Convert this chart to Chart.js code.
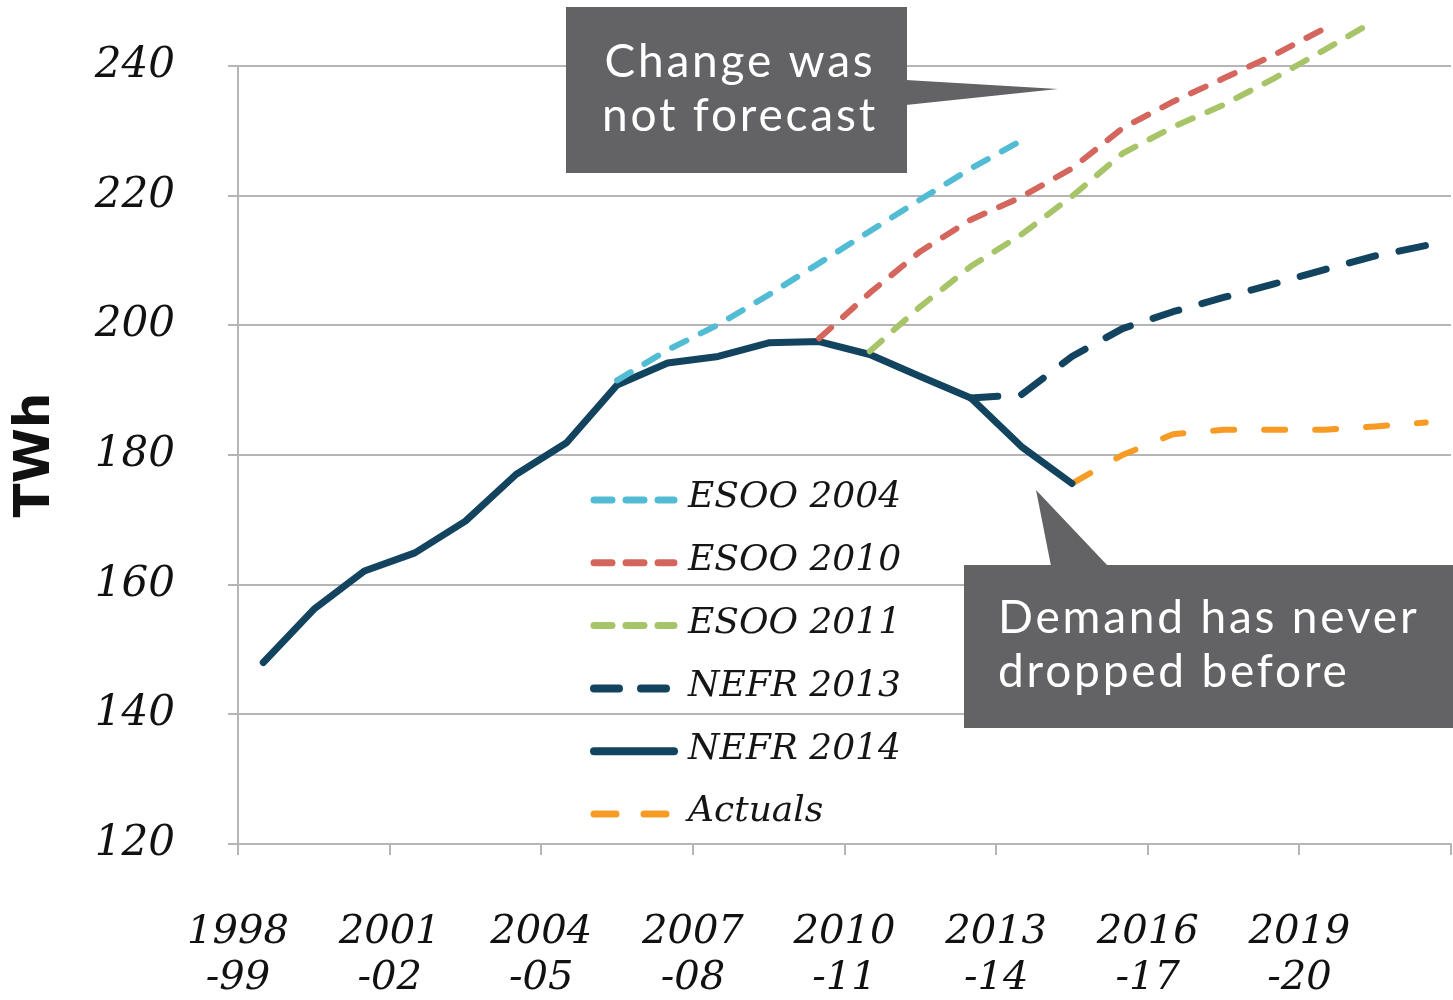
<html>
<head>
	<meta charset="utf-8">
	<title>TWh forecasts</title>
	<script src="https://cdn.jsdelivr.net/npm/chart.js@4/dist/chart.umd.min.js"></script>
	<style>
		body { margin: 0; background: #ffffff; }
		#wrap { width: 1453px; height: 1000px; position: relative; }
	</style>
</head>
<body>
	<div id="wrap">
		<canvas id="myChart"></canvas>
	</div>

	<script>

		// Financial years on the x axis (one category per year)
		var years = ['1998-99', '1999-00', '2000-01', '2001-02', '2002-03', '2003-04', '2004-05', '2005-06',
			'2006-07', '2007-08', '2008-09', '2009-10', '2010-11', '2011-12', '2012-13', '2013-14',
			'2014-15', '2015-16', '2016-17', '2017-18', '2018-19', '2019-20', '2020-21', '2021-22'];

		// Values in TWh, each series starts at the year given next to it
		var esoo2004 = [191.5, 196.2, 200.1, 204.7, 209.6, 214.5, 219.4, 224.2, 228.5];
		var esoo2004Start = '2005-06';
		var esoo2010 = [198.0, 205.0, 211.4, 216.3, 219.8, 224.2, 230.4, 234.5, 238.1, 241.7, 245.8];
		var esoo2010Start = '2009-10';
		var esoo2011 = [196.0, 202.9, 209.1, 214.0, 219.9, 226.5, 230.6, 234.0, 238.1, 242.5, 247.0];
		var esoo2011Start = '2010-11';
		var nefr2013 = [188.8, 189.3, 195.2, 199.5, 202.1, 204.3, 206.4, 208.6, 210.7, 212.3];
		var nefr2013Start = '2012-13';
		var nefr2014 = [148.0, 156.2, 162.1, 164.9, 169.8, 177.0, 181.9, 190.8, 194.2, 195.2, 197.3, 197.5,
			195.5, 192.1, 188.8, 181.3, 175.6];
		var nefr2014Start = '1998-99';
		var actuals = [175.6, 180.0, 183.2, 183.9, 183.9, 183.9, 184.4, 185.0];
		var actualsStart = '2014-15';

		var yTicks = [120, 140, 160, 180, 200, 220, 240];

		// points sit in the middle of their year
		function toPoints(values, start) {
			var first = years.indexOf(start);
			return values.map(function(v, k) {
				return { x: first + k + 0.5, y: v };
			});
		}

		var serifFont = 'DejaVu Serif';
		var sansFont = 'Lato';

		// legend drawn inside the plot
		var insideLegend = {
			id: 'insideLegend',
			afterDatasetsDraw: function(chart) {
				var ctx = chart.ctx;
				var x0 = 590, y0 = 500, step = 62.8;
				ctx.save();
				chart.data.datasets.forEach(function(ds, i) {
					var y = y0 + i * step;
					ctx.beginPath();
					ctx.strokeStyle = ds.borderColor;
					ctx.lineWidth = ds.borderWidth + 1;
					ctx.lineCap = 'round';
					ctx.setLineDash(ds.legendDash || []);
					ctx.moveTo(x0 + 4, y);
					ctx.lineTo(x0 + 84, y);
					ctx.stroke();
					ctx.setLineDash([]);
					ctx.fillStyle = '#151515';
					ctx.font = 'italic 36px "' + serifFont + '"';
					ctx.textBaseline = 'middle';
					ctx.textAlign = 'left';
					ctx.fillText(ds.label, x0 + 98, y - 2);
				});
				ctx.restore();
			}
		};

		// grey call-out boxes
		var callouts = {
			id: 'callouts',
			afterDraw: function(chart) {
				var ctx = chart.ctx;
				ctx.save();
				ctx.fillStyle = '#636365';

				ctx.fillRect(566, 7, 341, 166);
				ctx.beginPath();
				ctx.moveTo(906, 80);
				ctx.lineTo(1058, 89);
				ctx.lineTo(906, 105);
				ctx.closePath();
				ctx.fill();

				ctx.fillRect(964, 565, 489, 163);
				ctx.beginPath();
				ctx.moveTo(1051, 566);
				ctx.lineTo(1036, 490);
				ctx.lineTo(1108, 566);
				ctx.closePath();
				ctx.fill();

				ctx.fillStyle = '#ffffff';
				ctx.font = '46px "' + sansFont + '"';
				ctx.letterSpacing = '2.8px';
				ctx.textBaseline = 'alphabetic';
				ctx.textAlign = 'center';
				ctx.fillText('Change was', 740, 77);
				ctx.fillText('not forecast', 740, 131);
				ctx.textAlign = 'left';
				ctx.fillText('Demand has never', 998, 633);
				ctx.fillText('dropped before', 998, 687);
				ctx.restore();
			}
		};

		var ctx = document.getElementById('myChart').getContext('2d');
		var chart = new Chart(ctx, {
			type: 'line',
			data: {
				datasets: [{
					label: 'ESOO 2004',
					data: toPoints(esoo2004, esoo2004Start),
					borderColor: '#52bcd5',
					borderWidth: 6,
					borderDash: [16, 16],
					legendDash: [18, 14]
				},
				{
					label: 'ESOO 2010',
					data: toPoints(esoo2010, esoo2010Start),
					borderColor: '#d4665d',
					borderWidth: 6,
					borderDash: [16, 16],
					legendDash: [18, 14]
				},
				{
					label: 'ESOO 2011',
					data: toPoints(esoo2011, esoo2011Start),
					borderColor: '#a8c468',
					borderWidth: 6,
					borderDash: [16, 16],
					legendDash: [18, 14]
				},
				{
					label: 'NEFR 2013',
					data: toPoints(nefr2013, nefr2013Start),
					borderColor: '#12435f',
					borderWidth: 7,
					borderDash: [27, 24],
					legendDash: [25, 22]
				},
				{
					label: 'NEFR 2014',
					data: toPoints(nefr2014, nefr2014Start),
					borderColor: '#12435f',
					borderWidth: 7,
					borderDash: [],
					legendDash: []
				},
				{
					label: 'Actuals',
					data: toPoints(actuals, actualsStart),
					borderColor: '#f79b24',
					borderWidth: 6,
					borderDash: [21, 30],
					legendDash: [22, 28]
				}]
			},
			options: {
				responsive: true,
				maintainAspectRatio: false,
				animation: false,
				layout: { padding: { top: 66, right: 2, left: 0, bottom: 0 } },
				elements: {
					point: { radius: 0, hoverRadius: 0 },
					line: { tension: 0, fill: false, borderCapStyle: 'round', borderJoinStyle: 'round' }
				},
				datasets: { line: { clip: false } },
				plugins: {
					legend: { display: false },
					tooltip: { enabled: false },
					title: { display: false }
				},
				scales: {
					x: {
						type: 'linear',
						min: 0,
						max: years.length,
						afterFit: function(s) {
							s.height = 156;
							s.paddingLeft = 0;
							s.paddingRight = 0;
						},
						afterBuildTicks: function(s) {
							s.ticks = [];
							for (var v = 0; v <= years.length; v += 3) s.ticks.push({ value: v });
						},
						ticks: {
							autoSkip: false,
							maxRotation: 0,
							padding: 55,
							color: '#111111',
							font: { family: serifFont, style: 'italic', size: 40, lineHeight: 1.15 },
							callback: function(v) {
								var lab = years[v];
								if (!lab || v >= years.length) return '';
								return [lab.slice(0, 4), '-' + lab.slice(5)];
							}
						},
						grid: { drawOnChartArea: false, drawTicks: true, tickLength: 11, color: '#b5b5b5', lineWidth: 2 },
						border: { display: true, color: '#b5b5b5', width: 2 }
					},
					y: {
						min: 120,
						max: 240,
						afterFit: function(s) {
							s.width = 238;
							s.paddingTop = 0;
							s.paddingBottom = 0;
						},
						afterBuildTicks: function(s) {
							s.ticks = yTicks.map(function(v) { return { value: v }; });
						},
						ticks: {
							padding: 53,
							color: '#111111',
							font: { family: serifFont, style: 'italic', size: 42 }
						},
						grid: { color: '#b5b5b5', lineWidth: 2, tickLength: 10, drawTicks: true },
						border: { display: true, color: '#b5b5b5', width: 2 },
						title: {
							display: true,
							text: 'TWh',
							color: '#111111',
							padding: { top: 6, bottom: 0 },
							font: { family: 'DejaVu Sans', weight: 'bold', size: 50, lineHeight: 1.2 }
						}
					}
				}
			},
			plugins: [insideLegend, callouts]
		});

	</script>
</body>
</html>
